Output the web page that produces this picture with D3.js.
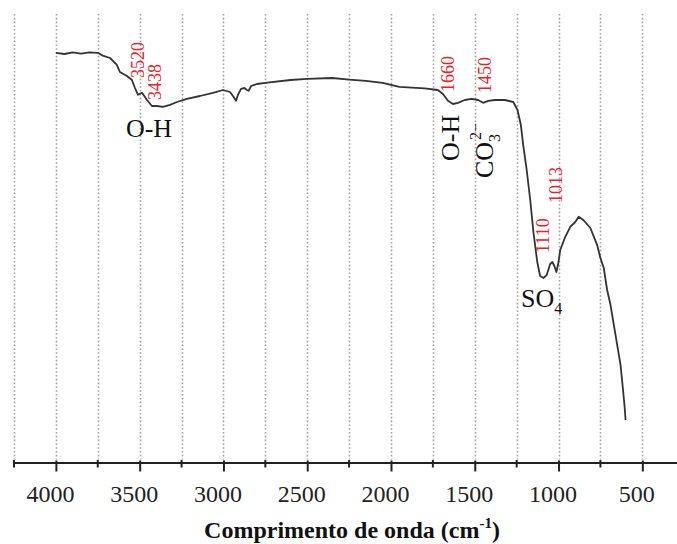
<!DOCTYPE html>
<html>
<head>
<meta charset="utf-8">
<script src="https://cdn.jsdelivr.net/npm/d3@7"></script>
<style>
  html, body { margin: 0; padding: 0; background: #fff; }
  svg { display: block; }
  svg text { font-family: "Liberation Serif", serif !important; }
</style>
</head>
<body>
<svg id="chart" width="677" height="544"></svg>
<script>
// FTIR spectrum: wavenumber (cm-1) and transmittance (%)
const wavenumber = [4000, 3950, 3900, 3850, 3800, 3750, 3720, 3677, 3636, 3618, 3576, 3546, 3528, 3510, 3486,
  3456, 3427, 3397, 3361, 3319, 3277, 3218, 3140, 3062, 3003, 2961, 2940, 2925, 2913, 2895, 2875, 2860, 2850,
  2835, 2800, 2750, 2600, 2500, 2350, 2250, 2150, 2050, 1950, 1800, 1720, 1690, 1660, 1630, 1600, 1560, 1520,
  1480, 1450, 1420, 1380, 1320, 1270, 1245, 1225, 1211, 1190, 1169, 1150, 1127, 1110, 1090, 1070, 1050, 1037,
  1025, 1013, 1000, 990, 960, 930, 900, 880, 852, 810, 770, 750, 730, 710, 690, 670, 650, 630, 615, 605, 600];
const transmittance = [96.8, 96.5, 96.9, 96.6, 96.9, 96.8, 96.1, 95.5, 93.8, 92.0, 91.0, 90.0, 88.0, 86.3, 86.8,
  85.0, 83.5, 83.5, 83.3, 83.8, 84.5, 85.3, 86.0, 86.8, 87.5, 87.0, 85.8, 84.8, 86.3, 87.8, 88.0, 87.5, 87.3,
  88.5, 89.0, 89.3, 90.0, 90.3, 90.5, 90.1, 89.8, 89.3, 88.3, 87.9, 87.5, 86.5, 84.8, 84.0, 84.3, 85.0, 85.3,
  85.0, 84.3, 84.8, 85.0, 85.0, 84.5, 82.5, 78.8, 73.8, 67.5, 60.0, 52.0, 44.5, 41.0, 40.5, 41.3, 44.0, 44.5,
  43.5, 42.0, 44.5, 47.5, 50.8, 53.3, 54.5, 55.8, 55.0, 53.0, 48.8, 45.5, 43.0, 37.5, 33.8, 28.8, 23.8, 18.8,
  12.5, 8.0, 5.0];

// Axis ticks
const majorTicks = [4000, 3500, 3000, 2500, 2000, 1500, 1000, 500];
const minorTicks = [4250, 3750, 3250, 2750, 2250, 1750, 1250, 750];
const gridValues = [4250, 4000, 3750, 3500, 3250, 3000, 2750, 2500, 2250, 2000, 1750, 1500, 1250, 1000, 750, 500];

// Peak positions (red) with the point each rotated label starts from
const peakLabels = ["3520", "3438", "1660", "1450", "1110", "1013"];
const labelAtX = [3510, 3410, 1660, 1440, 1090, 1013];
const labelAtY = [90.5, 85, 87, 86.75, 46.75, 59.25];
const xTitle = "Comprimento de onda (cm";

const serif = "'Liberation Serif', serif";
const svg = d3.select("#chart");

const x = d3.scaleLinear().domain([4250, 290]).range([14, 677.5]);
const y = d3.scaleLinear().domain([0, 100]).range([440, 40]);
const axisY = 462.5;

// dotted vertical grid
svg.append("g").selectAll("line").data(gridValues).join("line")
  .attr("x1", d => Math.round(x(d)) + 0.5).attr("x2", d => Math.round(x(d)) + 0.5)
  .attr("y1", 14).attr("y2", axisY - 3)
  .attr("stroke", "#a0a0a0").attr("stroke-width", 1.6)
  .attr("stroke-dasharray", "1.6,2.2");

// spectrum
const pts = wavenumber.map((w, i) => [w, transmittance[i]]);
svg.append("path").datum(pts)
  .attr("fill", "none").attr("stroke", "#333").attr("stroke-width", 1.8)
  .attr("stroke-linejoin", "round")
  .attr("d", d3.line().x(d => x(d[0])).y(d => y(d[1])));

// bottom axis
const gx = svg.append("g").attr("transform", `translate(0,${axisY})`);
gx.call(d3.axisBottom(x).tickValues(majorTicks).tickSizeInner(9).tickSizeOuter(0)
  .tickPadding(13).tickFormat(d3.format("d")));
gx.attr("font-family", null);
gx.select(".domain").attr("stroke", "#222").attr("stroke-width", 2.2);
gx.selectAll(".tick line").attr("stroke", "#222").attr("stroke-width", 2).attr("y1", -2);
gx.selectAll(".tick text").attr("fill", "#222").attr("font-size", 24)
  .style("font-family", serif).attr("dx", -6);
const gm = svg.append("g").attr("transform", `translate(0,${axisY})`);
gm.selectAll("line").data(minorTicks).join("line")
  .attr("x1", d => x(d)).attr("x2", d => x(d)).attr("y1", -2.5).attr("y2", 5)
  .attr("stroke", "#222").attr("stroke-width", 2);

// axis title
const t = svg.append("text").attr("x", 352).attr("y", 538).attr("text-anchor", "middle")
  .attr("font-size", 24).attr("font-weight", "bold").attr("fill", "#111").style("font-family", serif);
t.append("tspan").text(xTitle);
t.append("tspan").attr("font-size", 15).attr("dy", -10).text("-1");
t.append("tspan").attr("dy", 10).text(")");

// red peak labels, rotated
svg.append("g").selectAll("text").data(peakLabels).join("text")
  .attr("transform", (d, i) => `translate(${x(labelAtX[i]) + 6},${y(labelAtY[i])}) rotate(-90)`)
  .attr("font-size", 18).attr("fill", "#e8202a").style("font-family", serif).text(d => d);

// band labels
svg.append("text").attr("x", 149).attr("y", 137).attr("text-anchor", "middle")
  .attr("font-size", 26).attr("fill", "#111").style("font-family", serif).text("O-H");
svg.append("text").attr("transform", `translate(${x(1650) + 9},${161}) rotate(-90)`)
  .attr("font-size", 26).attr("fill", "#111").style("font-family", serif).text("O-H");
const co = svg.append("text").attr("transform", `translate(${x(1450) + 10},${178}) rotate(-90)`)
  .attr("font-size", 26).attr("fill", "#111").style("font-family", serif);
co.append("tspan").text("CO");
co.append("tspan").attr("font-size", 16).attr("dy", 7).text("3");
co.append("tspan").attr("font-size", 16).attr("dx", -6).attr("dy", -19).text("2−");
const so = svg.append("text").attr("x", 521).attr("y", 307).attr("font-size", 26).attr("fill", "#111")
  .style("font-family", serif);
so.append("tspan").text("SO");
so.append("tspan").attr("font-size", 16).attr("dy", 7).text("4");
</script>
</body>
</html>
